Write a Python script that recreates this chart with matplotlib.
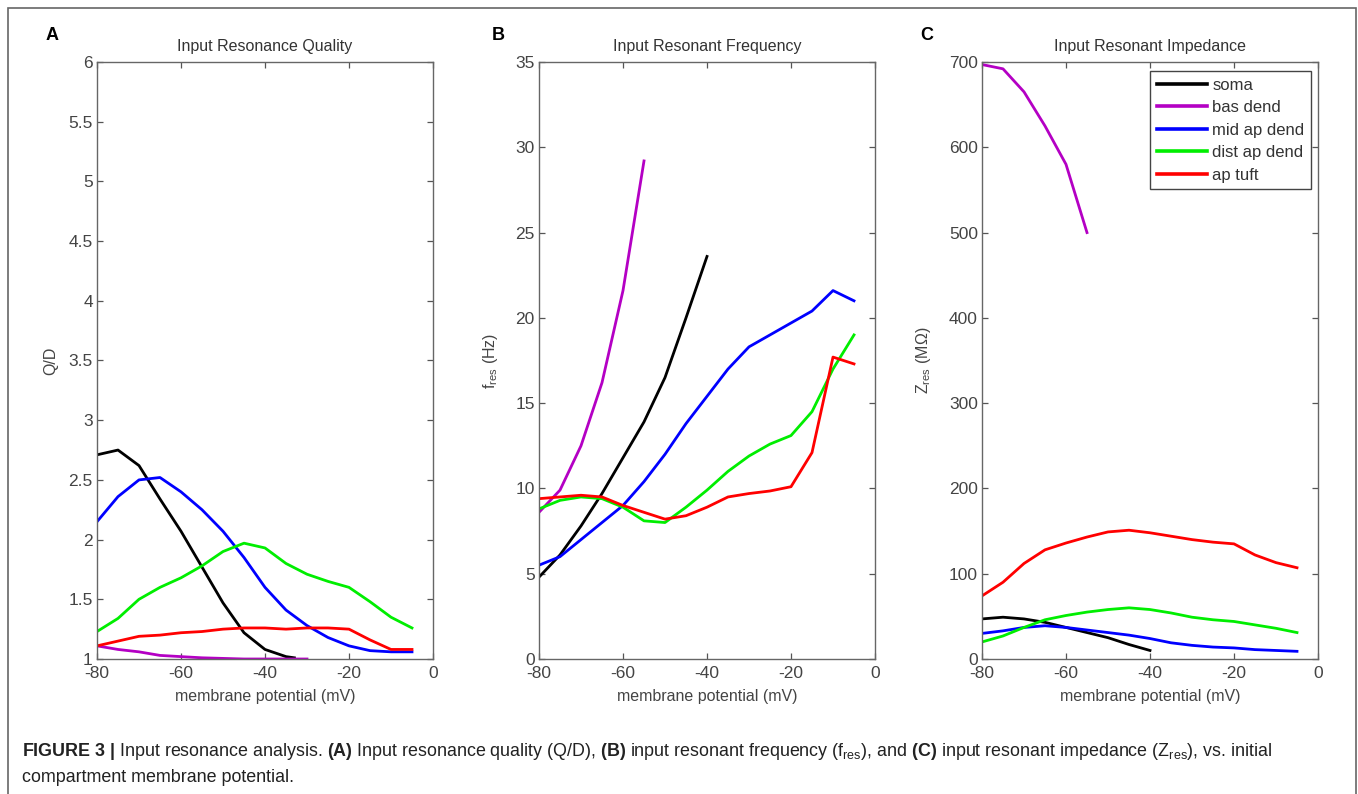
import matplotlib
matplotlib.use("Agg")
import matplotlib.pyplot as plt
from matplotlib.ticker import FuncFormatter, MultipleLocator
from matplotlib.patches import Rectangle

plt.rcParams['font.family'] = ['Liberation Sans', 'DejaVu Sans']
plt.rcParams['mathtext.fontset'] = 'custom'
plt.rcParams['mathtext.rm'] = 'Liberation Sans'
plt.rcParams['mathtext.bf'] = 'Liberation Sans:bold'
plt.rcParams['mathtext.it'] = 'Liberation Sans:italic'
plt.rcParams['axes.unicode_minus'] = False

# membrane potential grid (mV)
volt = [-80, -75, -70, -65, -60, -55, -50, -45, -40, -35, -30, -25, -20, -15, -10, -5]

# A: input resonance quality (Q/D)
qd_soma_v = [-80, -75, -70, -65, -60, -55, -50, -45, -40, -35, -33]
qd_soma = [2.71, 2.75, 2.62, 2.34, 2.07, 1.77, 1.47, 1.22, 1.08, 1.02, 1.01]
qd_bas_v = [-80, -75, -70, -65, -60, -55, -50, -45, -40, -35, -30]
qd_bas = [1.11, 1.08, 1.06, 1.03, 1.02, 1.01, 1.005, 1.0, 1.0, 1.0, 1.0]
qd_mid = [2.15, 2.36, 2.50, 2.52, 2.40, 2.25, 2.07, 1.85, 1.60, 1.41, 1.28, 1.18, 1.11, 1.07, 1.06, 1.06]
qd_dist = [1.23, 1.34, 1.50, 1.60, 1.68, 1.78, 1.90, 1.97, 1.93, 1.80, 1.71, 1.65, 1.60, 1.48, 1.35, 1.26]
qd_tuft = [1.11, 1.15, 1.19, 1.20, 1.22, 1.23, 1.25, 1.26, 1.26, 1.25, 1.26, 1.26, 1.25, 1.16, 1.08, 1.08]

# B: input resonant frequency (Hz)
fr_soma_v = [-80, -75, -70, -65, -60, -55, -50, -45, -40]
fr_soma = [4.8, 6.1, 7.8, 9.7, 11.8, 13.9, 16.5, 20.0, 23.6]
fr_bas_v = [-80, -75, -70, -65, -60, -55]
fr_bas = [8.6, 9.9, 12.5, 16.2, 21.6, 29.2]
fr_mid = [5.5, 6.0, 7.0, 8.0, 9.0, 10.4, 12.0, 13.8, 15.4, 17.0, 18.3, 19.0, 19.7, 20.4, 21.6, 21.0]
fr_dist = [8.8, 9.3, 9.5, 9.4, 8.9, 8.1, 8.0, 8.9, 9.9, 11.0, 11.9, 12.6, 13.1, 14.5, 17.0, 19.0]
fr_tuft = [9.4, 9.5, 9.6, 9.5, 9.0, 8.6, 8.2, 8.4, 8.9, 9.5, 9.7, 9.85, 10.1, 12.1, 17.7, 17.3]

# C: input resonant impedance (MOhm)
zr_soma_v = [-80, -75, -70, -65, -60, -55, -50, -45, -40]
zr_soma = [47, 49, 47, 43, 37, 31, 25, 17, 10]
zr_bas_v = [-80, -75, -70, -65, -60, -55]
zr_bas = [697, 692, 665, 625, 580, 500]
zr_mid = [30, 33, 37, 39, 37, 34, 31, 28, 24, 19, 16, 14, 13, 11, 10, 9]
zr_dist = [20, 27, 37, 46, 51, 55, 58, 60, 58, 54, 49, 46, 44, 40, 36, 31]
zr_tuft = [74, 90, 112, 128, 136, 143, 149, 151, 148, 144, 140, 137, 135, 122, 113, 107]

labels = ['soma', 'bas dend', 'mid ap dend', 'dist ap dend', 'ap tuft']
colors = ['black', '#b400c4', '#0000ff', '#00ee00', '#ff0000']

W, H = 1358, 794
fig = plt.figure(figsize=(W / 100, H / 100), dpi=100)

# outer frame
fig.patches.append(Rectangle((8 / W, -0.05), (1356 - 8) / W, 1.05 - 8 / H,
                             transform=fig.transFigure, fill=False,
                             edgecolor='#666666', linewidth=1.2))

gray = '#444444'
lefts = [97, 539, 982]
panels = [
    ('A', 'Input Resonance Quality', 'Q/D',
     [(qd_soma_v, qd_soma), (qd_bas_v, qd_bas), (volt, qd_mid), (volt, qd_dist), (volt, qd_tuft)],
     (1, 6), 0.5),
    ('B', 'Input Resonant Frequency', r'f$_{\mathrm{res}}$ (Hz)',
     [(fr_soma_v, fr_soma), (fr_bas_v, fr_bas), (volt, fr_mid), (volt, fr_dist), (volt, fr_tuft)],
     (0, 35), 5),
    ('C', 'Input Resonant Impedance', r'Z$_{\mathrm{res}}$ (MΩ)',
     [(zr_soma_v, zr_soma), (zr_bas_v, zr_bas), (volt, zr_mid), (volt, zr_dist), (volt, zr_tuft)],
     (0, 700), 100),
]
ylab_x = [-0.116, -0.116, -0.146]
letter_x = [52, 498, 927]

for i, (letter, title, ylab, series, ylim, ystep) in enumerate(panels):
    ax = fig.add_axes([lefts[i] / W, (H - 659) / H, 336 / W, 597 / H])
    for (xv, yv), lab, c in zip(series, labels, colors):
        ax.plot(xv, yv, color=c, lw=2.0, label=lab)
    ax.set_xlim(-80, 0)
    ax.set_ylim(*ylim)
    ax.xaxis.set_major_locator(MultipleLocator(20))
    ax.yaxis.set_major_locator(MultipleLocator(ystep))
    ax.yaxis.set_major_formatter(FuncFormatter(lambda v, p: '%g' % v))
    ax.tick_params(direction='in', length=4, width=0.9, top=True, right=True,
                   color='#555555', labelcolor=gray, labelsize=12.5)
    ax.tick_params(axis='x', pad=5)
    ax.tick_params(axis='y', pad=3)
    for s in ax.spines.values():
        s.set_color('#666666')
        s.set_linewidth(1.0)
    ax.set_title(title, fontsize=11.5, color='#333333', pad=8)
    ax.set_xlabel('membrane potential (mV)', fontsize=11.5, color=gray, labelpad=6)
    ax.set_ylabel(ylab, fontsize=11.5, color=gray)
    ax.yaxis.set_label_coords(ylab_x[i], 0.5)
    fig.text(letter_x[i] / W, 1 - 35 / H, letter, fontsize=13, fontweight='bold',
             ha='center', va='center', color='black')
    if letter == 'C':
        leg = ax.legend(loc='upper right', bbox_to_anchor=(0.979, 0.985), borderaxespad=0,
                        fontsize=12, handlelength=3.0, handletextpad=0.3,
                        labelspacing=0.45, borderpad=0.4, fancybox=False, framealpha=1)
        leg.get_frame().set_edgecolor('#444444')
        leg.get_frame().set_linewidth(1.0)
        for t in leg.get_texts():
            t.set_color('#333333')
        for ln in leg.get_lines():
            ln.set_linewidth(2.6)

cap1 = (r'$\mathbf{FIGURE\ 3\ |}$ Input resonance analysis. $\mathbf{(A)}$ Input resonance quality (Q/D), '
        r'$\mathbf{(B)}$ input resonant frequency (f$_{\mathrm{res}}$), and $\mathbf{(C)}$ input resonant '
        r'impedance (Z$_{\mathrm{res}}$), vs. initial')
cap2 = 'compartment membrane potential.'
fig.text(22 / W, 1 - 756 / H, cap1, fontsize=12.9, color='#222222', va='baseline')
fig.text(22 / W, 1 - 782 / H, cap2, fontsize=12.9, color='#222222', va='baseline')

fig.savefig('out.png', dpi=100)
